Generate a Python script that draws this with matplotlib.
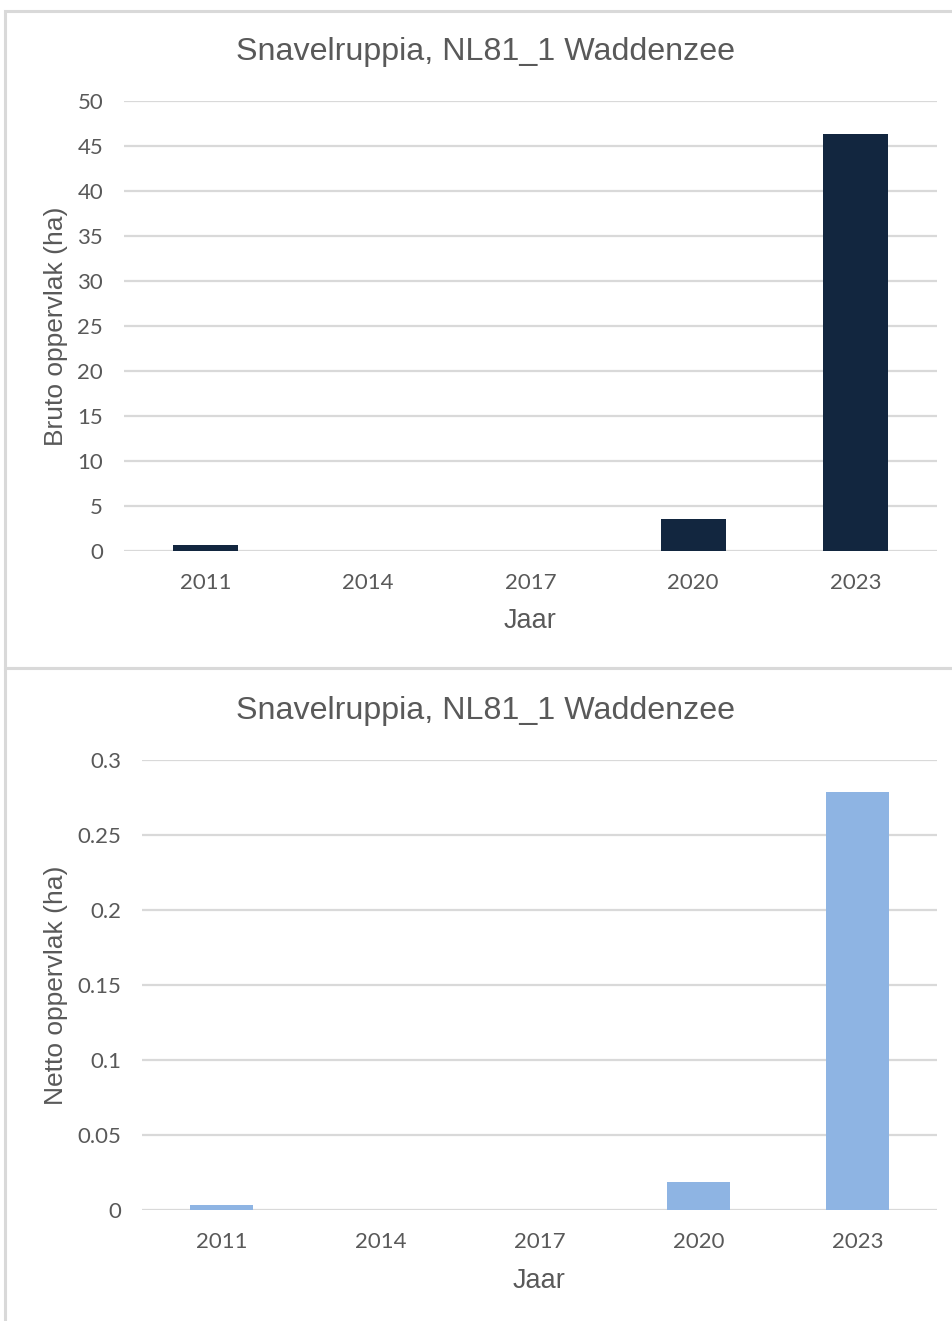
import matplotlib.pyplot as plt
from matplotlib.patches import Rectangle

years = ['2011', '2014', '2017', '2020', '2023']
bruto = [0.7, 0, 0, 3.6, 46.3]
netto = [0.0033, 0, 0, 0.019, 0.279]

title = 'Snavelruppia, NL81_1 Waddenzee'
grid_col = '#D9D9D9'
text_col = '#595959'

W, H = 953, 1321
fig = plt.figure(figsize=(W / 100, H / 100), dpi=100)

# panel borders like the excel chart areas
fig.patches.append(Rectangle((5 / W, 1 - 668 / H), 1.0, (668 - 11) / H, transform=fig.transFigure,
                             facecolor='white', edgecolor=grid_col, linewidth=2.2, zorder=-2))
fig.patches.append(Rectangle((5 / W, -0.05), 1.0, 0.05 + (1321 - 668) / H, transform=fig.transFigure,
                             facecolor='white', edgecolor=grid_col, linewidth=2.2, zorder=-2))


def draw(rect, vals, color, ticks, ticklabels, ylabel, title_y, ylabel_x):
    ax = fig.add_axes(rect)
    ax.patch.set_alpha(0)
    x = range(len(years))
    ax.bar(x, vals, width=0.4, color=color, zorder=3)
    ax.set_xlim(-0.5, len(years) - 0.5)
    ax.set_ylim(ticks[0], ticks[-1])
    ax.set_yticks(ticks)
    ax.set_yticklabels(ticklabels, fontsize=16, color=text_col, family='Lato')
    ax.set_xticks(list(x))
    ax.set_xticklabels(years, fontsize=16, color=text_col, family='Lato')
    ax.tick_params(axis='y', length=0, pad=15)
    ax.tick_params(axis='x', length=0, pad=16)
    ax.yaxis.grid(True, color=grid_col, linewidth=1.6, zorder=0)
    for s in ax.spines.values():
        s.set_visible(False)
    ax.axhline(0, color=grid_col, linewidth=2, zorder=2)
    ax.set_xlabel('Jaar', fontsize=19.5, color=text_col, family='Liberation Sans', labelpad=11)
    ax.set_ylabel(ylabel, fontsize=19, color=text_col, family='Liberation Sans')
    ax.yaxis.set_label_coords(ylabel_x, rect[1] + rect[3] / 2, transform=fig.transFigure)
    fig.text(486 / W, title_y, title, ha='center', va='center', fontsize=23.2,
             color=text_col, family='Liberation Sans')
    return ax


draw([124 / W, 1 - 551 / H, 813 / W, 450 / H], bruto, '#12263F',
     [0, 5, 10, 15, 20, 25, 30, 35, 40, 45, 50],
     ['0', '5', '10', '15', '20', '25', '30', '35', '40', '45', '50'],
     'Bruto oppervlak (ha)', 1 - 52 / H, 68 / W)

draw([142 / W, 1 - 1210 / H, 795 / W, 450 / H], netto, '#8EB4E3',
     [0, 0.05, 0.1, 0.15, 0.2, 0.25, 0.3],
     ['0', '0.05', '0.1', '0.15', '0.2', '0.25', '0.3'],
     'Netto oppervlak (ha)', 1 - 711 / H, 68 / W)

fig.savefig('out.png', dpi=100)
